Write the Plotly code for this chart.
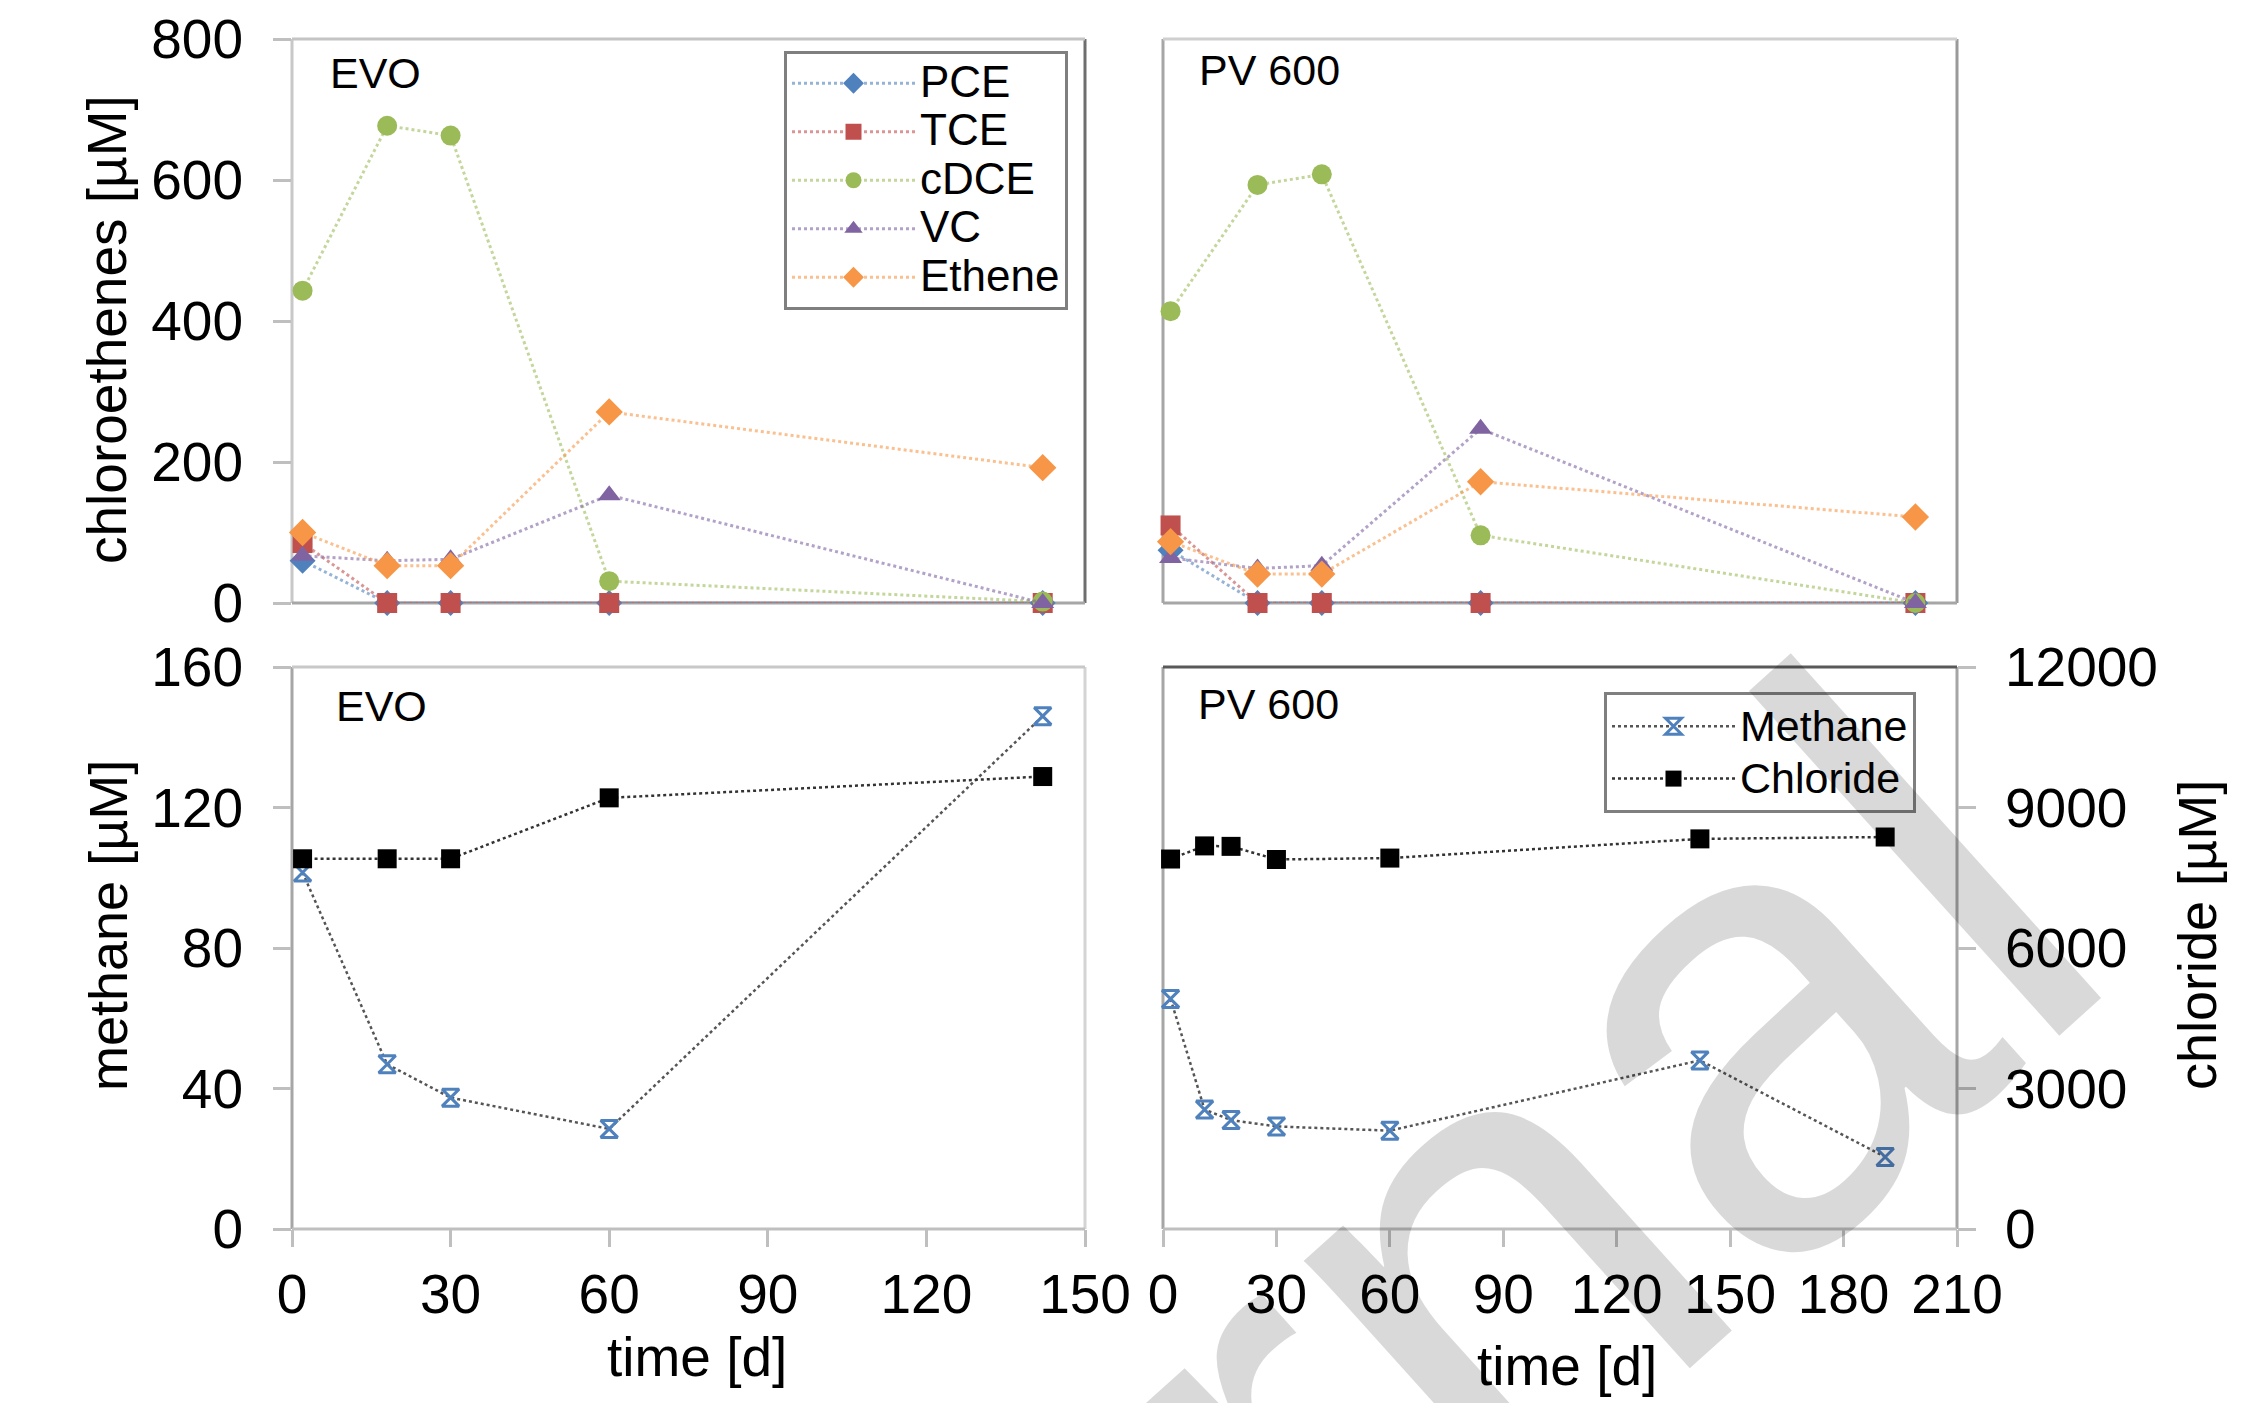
import plotly.graph_objects as go

# ---------------- data ----------------
evo_days = [2, 18, 30, 60, 142]
evo_pce = [60, 0, 0, 0, 0]
evo_tce = [85, 0, 0, 0, 0]
evo_cdce = [443, 677, 663, 31, 2]
evo_vc = [67, 60, 62, 153, 0]
evo_ethene = [100, 53, 53, 271, 192]

pv_days = [2, 25, 42, 84, 199]
pv_pce = [75, 0, 0, 0, 0]
pv_tce = [110, 0, 0, 0, 0]
pv_cdce = [414, 593, 608, 96, 0]
pv_vc = [64, 49, 53, 247, 0]
pv_ethene = [87, 41, 41, 172, 122]

evo_gas_days = [2, 18, 30, 60, 142]
evo_methane = [101.5, 46.9, 37.4, 28.5, 146]
evo_chloride = [7905, 7905, 7905, 9206, 9661]

pv_gas_days = [2, 11, 18, 30, 60, 142, 191]
pv_methane = [65.5, 34, 31, 29.2, 28, 48, 20.5]
pv_chloride = [7900, 8180, 8170, 7890, 7920, 8330, 8370]

species = ["PCE", "TCE", "cDCE", "VC", "Ethene"]
colors = ["#4F81BD", "#C0504D", "#9BBB59", "#8064A2", "#F79646"]
line_colors = ["rgba(79,129,189,0.6)", "rgba(192,80,77,0.6)", "rgba(155,187,89,0.6)",
               "rgba(128,100,162,0.6)", "rgba(247,150,70,0.6)"]
symbols = ["diamond", "square", "circle", "triangle-up", "diamond"]
msizes = [20, 20, 20, 20, 21]

x_ticks_evo = [0, 30, 60, 90, 120, 150]
x_ticks_pv = [0, 30, 60, 90, 120, 150, 180, 210]
y_ticks_ce = [0, 200, 400, 600, 800]
y_ticks_me = [0, 40, 80, 120, 160]
y_ticks_cl = [0, 3000, 6000, 9000, 12000]
y_ticktext_cl = ["0", "3000", "6000", "9000", "12000"]

FONT = "Liberation Sans, Arial, sans-serif"
W, H = 2252, 1403

fig = go.Figure()

evo_sets = [evo_pce, evo_tce, evo_cdce, evo_vc, evo_ethene]
pv_sets = [pv_pce, pv_tce, pv_cdce, pv_vc, pv_ethene]

def big(name, px):
    return "<span style='font-size:%dpx'>%s</span>" % (px, name)

for i, name in enumerate(species):
    fig.add_trace(go.Scatter(
        x=evo_days, y=evo_sets[i], name=big(name, 44), mode="lines+markers",
        xaxis="x", yaxis="y", legend="legend", showlegend=True, cliponaxis=False,
        line=dict(color=line_colors[i], width=3, dash="dot"),
        marker=dict(symbol=symbols[i], size=msizes[i], color=colors[i])))
for i, name in enumerate(species):
    fig.add_trace(go.Scatter(
        x=pv_days, y=pv_sets[i], name=name, mode="lines+markers",
        xaxis="x2", yaxis="y2", showlegend=False, cliponaxis=False,
        line=dict(color=line_colors[i], width=3, dash="dot"),
        marker=dict(symbol=symbols[i], size=msizes[i], color=colors[i])))

meth_marker = dict(symbol="hourglass-open", size=17, color="#4F81BD",
                   line=dict(color="#4F81BD", width=3))
chl_marker = dict(symbol="square", size=19, color="#000000")
meth_line = dict(color="#555555", width=2.5, dash="dot")
chl_line = dict(color="#333333", width=2.5, dash="dot")

fig.add_trace(go.Scatter(x=evo_gas_days, y=evo_methane, name="Methane", mode="lines+markers",
                         xaxis="x3", yaxis="y3", showlegend=False, cliponaxis=False,
                         line=meth_line, marker=meth_marker))
fig.add_trace(go.Scatter(x=evo_gas_days, y=evo_chloride, name="Chloride", mode="lines+markers",
                         xaxis="x3", yaxis="y4", showlegend=False, cliponaxis=False,
                         line=chl_line, marker=chl_marker))
fig.add_trace(go.Scatter(x=pv_gas_days, y=pv_methane, name=big("Methane", 43), mode="lines+markers",
                         xaxis="x4", yaxis="y5", legend="legend2", showlegend=True, cliponaxis=False,
                         line=meth_line, marker=meth_marker))
fig.add_trace(go.Scatter(x=pv_gas_days, y=pv_chloride, name=big("Chloride", 43), mode="lines+markers",
                         xaxis="x4", yaxis="y6", legend="legend2", showlegend=True, cliponaxis=False,
                         line=chl_line, marker=chl_marker))

# ---------------- layout ----------------
xl = [292 / W, 1085 / W]
xr = [1163 / W, 1957 / W]
yt = [1 - 603 / H, 1 - 39 / H]
yb = [1 - 1229 / H, 1 - 667 / H]

tickfont = dict(family=FONT, size=55, color="#000000")
TC = "#bfbfbf"

def xax(domain, rng, tickvals, show, anchor):
    d = dict(domain=domain, range=rng, anchor=anchor, showgrid=False, zeroline=False,
             showline=False, fixedrange=True, automargin=False)
    if show:
        d.update(tickmode="array", tickvals=tickvals, ticks="outside", ticklen=17,
                 tickwidth=3, tickcolor=TC, showticklabels=True, tickfont=tickfont,
                 ticklabelstandoff=0)
    else:
        d.update(showticklabels=False, ticks="")
    return d

def yax(domain, rng, tickvals, show, anchor, side="left", overlaying=None, visible=True,
        ticktext=None, standoff=19):
    d = dict(domain=domain, range=rng, anchor=anchor, side=side, showgrid=False,
             zeroline=False, showline=False, fixedrange=True, visible=visible, automargin=False)
    if overlaying:
        d["overlaying"] = overlaying
    if show:
        d.update(tickmode="array", tickvals=tickvals, ticks="outside", ticklen=18,
                 tickwidth=3, tickcolor=TC, showticklabels=True, tickfont=tickfont,
                 ticklabelstandoff=standoff)
        if ticktext:
            d["ticktext"] = ticktext
    else:
        d.update(showticklabels=False, ticks="")
    return d

fig.update_layout(
    width=W, height=H,
    margin=dict(l=0, r=0, t=0, b=0, autoexpand=False),
    paper_bgcolor="white", plot_bgcolor="white",
    font=dict(family=FONT, color="#000000"),
    xaxis=xax(xl, [0, 150], x_ticks_evo, False, "y"),
    yaxis=yax(yt, [0, 800], y_ticks_ce, True, "x"),
    xaxis2=xax(xr, [0, 210], x_ticks_pv, False, "y2"),
    yaxis2=yax(yt, [0, 800], y_ticks_ce, False, "x2"),
    xaxis3=xax(xl, [0, 150], x_ticks_evo, True, "y3"),
    yaxis3=yax(yb, [0, 160], y_ticks_me, True, "x3"),
    yaxis4=yax(yb, [0, 12000], y_ticks_cl, False, "x3", side="right", overlaying="y3", visible=False),
    xaxis4=xax(xr, [0, 210], x_ticks_pv, True, "y5"),
    yaxis5=yax(yb, [0, 160], y_ticks_me, False, "x4"),
    yaxis6=yax(yb, [0, 12000], y_ticks_cl, True, "x4", side="right", overlaying="y5",
               ticktext=y_ticktext_cl, standoff=18),
    legend=dict(x=784 / W, y=1 - 51 / H, xanchor="left", yanchor="top",
                bgcolor="white", bordercolor="#7f7f7f", borderwidth=3,
                font=dict(family=FONT, size=35, color="#000000"),
                itemwidth=123, tracegroupgap=0),
    legend2=dict(x=1604 / W, y=1 - 692 / H, xanchor="left", yanchor="top",
                 bgcolor="white", bordercolor="#7f7f7f", borderwidth=3,
                 font=dict(family=FONT, size=38, color="#000000"),
                 itemwidth=123, tracegroupgap=0),
)

# frames (per side colours)
def frame(xref, yref, left, right, top, bottom):
    for (x0, y0, x1, y1, c) in [(0, 0, 0, 1, left), (1, 0, 1, 1, right),
                                (0, 1, 1, 1, top), (0, 0, 1, 0, bottom)]:
        if c:
            fig.add_shape(type="line", xref=xref, yref=yref, x0=x0, y0=y0, x1=x1, y1=y1,
                          line=dict(color=c, width=3), layer="below")

frame("x domain", "y domain", "#c8c8c8", "#6e6e6e", "#c4c4c4", "#a6a6a6")
frame("x2 domain", "y2 domain", "#a6a6a6", "#9a9a9a", "#cfcfcf", "#a6a6a6")
frame("x3 domain", "y3 domain", "#a6a6a6", "#d4d4d4", "#c8c8c8", "#bfbfbf")
frame("x4 domain", "y5 domain", "#a6a6a6", "#a6a6a6", "#595959", "#bfbfbf")

# panel labels
for txt, px, py in [("EVO", 328, 73), ("PV 600", 1197, 70), ("EVO", 334, 706), ("PV 600", 1196, 704)]:
    fig.add_annotation(text=txt, x=px / W, y=1 - py / H, xref="paper", yref="paper",
                       xanchor="left", yanchor="middle", showarrow=False,
                       font=dict(family=FONT, size=43, color="#000000"))

# axis titles
titles = [("chloroethenes [µM]", 107, 330, -90, 55),
          ("methane [µM]", 108, 926, -90, 54),
          ("chloride [µM]", 2197, 935, -90, 54),
          ("time [d]", 697, 1357, 0, 55),
          ("time [d]", 1567, 1366, 0, 55)]
for txt, px, py, ang, fs in titles:
    fig.add_annotation(text=txt, x=px / W, y=1 - py / H, xref="paper", yref="paper",
                       xanchor="center", yanchor="middle", showarrow=False, textangle=ang,
                       font=dict(family=FONT, size=fs, color="#000000"))

# watermark
fig.add_annotation(text="Journal", x=1204 / W, y=1 - 1507 / H, xref="paper", yref="paper",
                   xanchor="center", yanchor="middle", showarrow=False, textangle=-42,
                   font=dict(family=FONT, size=640, color="rgba(0,0,0,0.15)"))

fig.write_html("out.html", config={"displayModeBar": False},
               post_script="document.body.style.margin='0';document.body.style.overflow='hidden';")
